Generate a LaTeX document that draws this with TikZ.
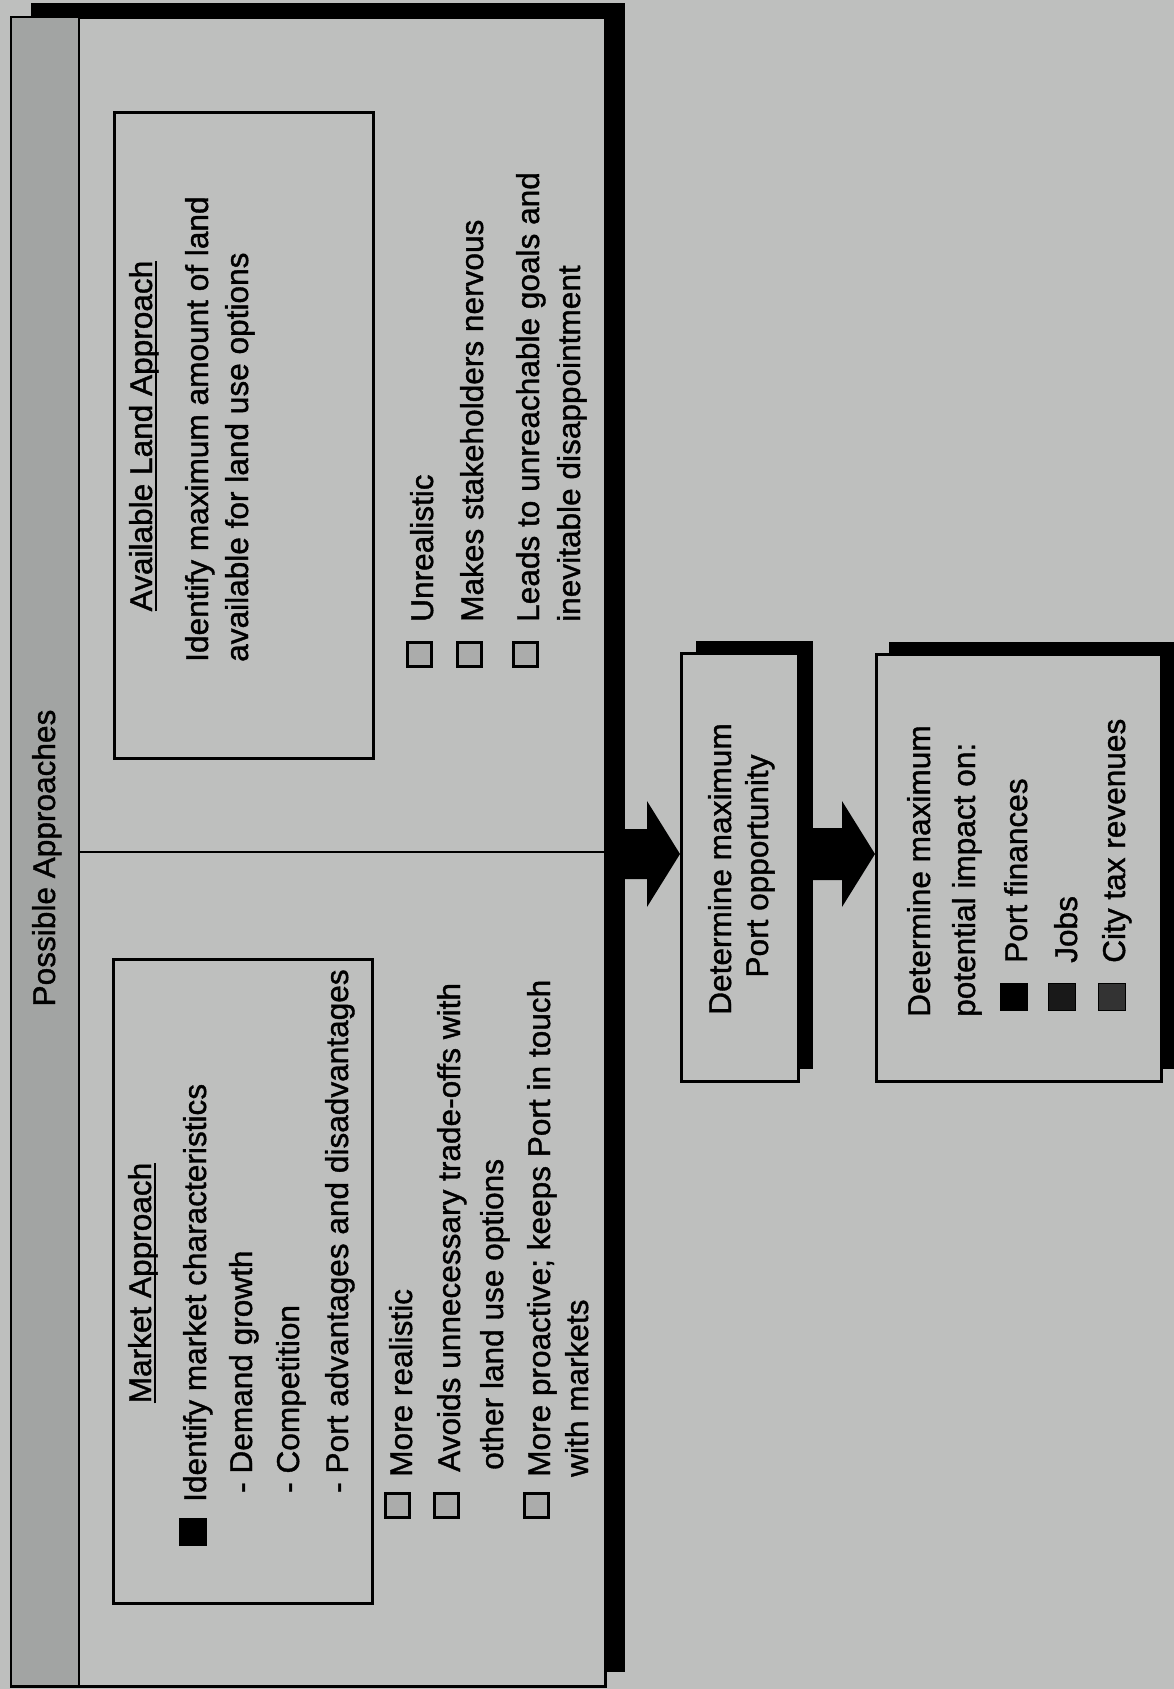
\documentclass[tikz,border=0pt]{standalone}
\usepackage{fontspec}
\usepackage{graphicx}
\setmainfont{Liberation Sans}[FakeBold=1.2]
\usetikzlibrary{shadows,calc}
\definecolor{bg}{HTML}{BEBFBE}
\definecolor{stip}{HTML}{A2A4A3}
\definecolor{sqfill}{HTML}{ABACAB}
\newcommand\myul[1]{\setbox0\hbox{#1}\rlap{\rule[-5pt]{\wd0}{2pt}}\box0}
\begin{document}
\begin{tikzpicture}[x=1pt,y=-1pt,
  txt/.style={rotate=90,anchor=base west,inner sep=0pt,font=\fontsize{31.6}{38}\selectfont},
  ctxt/.style={txt,anchor=base},
  frame/.style={draw=black,line width=2.5pt,fill=bg,inner sep=0pt,anchor=north west},
  shad/.style={drop shadow={shadow xshift=#1pt,shadow yshift=12pt,opacity=1,fill=black}},
  sq/.style={draw=black,line width=3pt,fill=sqfill,minimum size=24pt,inner sep=0pt},
  bsq/.style={draw=black,line width=1pt,fill=black,minimum size=27pt,inner sep=0pt},
  blockarrow/.style={fill=black}
]
\useasboundingbox (0,0) rectangle (1174,1689);
\fill[bg] (0,0) rectangle (1174,1689);

% main frame
\node[frame,drop shadow={shadow xshift=20pt,shadow yshift=14pt,opacity=1,fill=black},
      minimum width=594pt,minimum height=1669pt] (main) at (10,16) {};
\node[frame,fill=stip,line width=2pt,minimum width=68pt,minimum height=1669pt] (strip) at (10,16) {};
\coordinate (divy) at (0,852);
\draw[line width=2.8pt] (strip.east |- divy) -- (main.east |- divy);

\node[ctxt] (title) at (55,858) {Possible Approaches};

% available land approach
\node[frame,minimum width=259pt,minimum height=646pt] (avail) at (113,111) {};
\node[ctxt] (availT) at (152,436) {\myul{Available Land Approach}};
\node[txt] (av1) at (208,662) {Identify maximum amount of land};
\node[txt] (av2) at (248,662) {available for land use options};
\node[sq] (avs1) at (419,654) {};
\node[sq] (avs2) at (469,654) {};
\node[sq] (avs3) at (525.5,654) {};
\node[txt] (avb1) at (433,622) {Unrealistic};
\node[txt] (avb2) at (483,622) {Makes stakeholders nervous};
\node[txt] (avb3) at (539,622) {Leads to unreachable goals and};
\node[txt] (avb4) at (580,622) {inevitable disappointment};

% market approach
\node[frame,minimum width=259pt,minimum height=644pt] (market) at (112,958) {};
\node[ctxt] (marketT) at (151,1283) {\myul{Market Approach}};
\node[bsq] (mks0) at (192.5,1531.5) {};
\node[txt] (mk1) at (206,1502) {Identify market characteristics};
\node[txt] (mk2) at (252,1493) {- Demand growth};
\node[txt] (mk3) at (299,1493) {- Competition};
\node[txt] (mk4) at (348,1493) {- Port advantages and disadvantages};
\node[sq] (mks1) at (397.5,1505) {};
\node[sq] (mks2) at (446,1505) {};
\node[sq] (mks3) at (536,1505) {};
\node[txt] (mkb1) at (412,1477) {More realistic};
\node[txt] (mkb2) at (460,1472) {Avoids unnecessary trade-offs with};
\node[txt] (mkb3) at (503,1470) {other land use options};
\node[txt] (mkb4) at (550,1477) {More proactive; keeps Port in touch};
\node[txt] (mkb5) at (588,1477) {with markets};

% right boxes
\node[frame,shad=15,minimum width=117pt,minimum height=428pt] (opp) at (680,652) {};
\node[ctxt] (opp1) at (731,869) {Determine maximum};
\node[ctxt] (opp2) at (768,866) {Port opportunity};

\node[frame,shad=13,minimum width=285pt,minimum height=427pt] (impact) at (875,653) {};
\node[txt] (im1) at (930,1017) {Determine maximum};
\node[txt] (im2) at (975,1017) {potential impact on:};
\node[bsq] (ims1) at (1013.5,996.5) {};
\node[bsq,fill=black!90] (ims2) at (1061.5,996.5) {};
\node[bsq,fill=black!80] (ims3) at (1111.5,996.5) {};
\node[txt] (imb1) at (1027,963) {Port finances};
\node[txt] (imb2) at (1077,963) {Jobs};
\node[txt] (imb3) at (1125,963) {City tax revenues};

% block arrows
\coordinate (ay) at (0,854);
\path (main.east |- ay) coordinate (a1s) (opp.west |- ay) coordinate (a1e);
\path (opp.east |- ay) coordinate (a2s) (impact.west |- ay) coordinate (a2e);
\fill[blockarrow] ($(a1s)+(0,-25)$) -- ($(a1e)+(-33,-25)$) -- ($(a1e)+(-33,-53)$) -- (a1e)
  -- ($(a1e)+(-33,53)$) -- ($(a1e)+(-33,25)$) -- ($(a1s)+(0,25)$) -- cycle;
\fill[blockarrow] ($(a2s)+(0,-26)$) -- ($(a2e)+(-33,-26)$) -- ($(a2e)+(-33,-53)$) -- (a2e)
  -- ($(a2e)+(-33,53)$) -- ($(a2e)+(-33,26)$) -- ($(a2s)+(0,26)$) -- cycle;
\end{tikzpicture}
\end{document}
